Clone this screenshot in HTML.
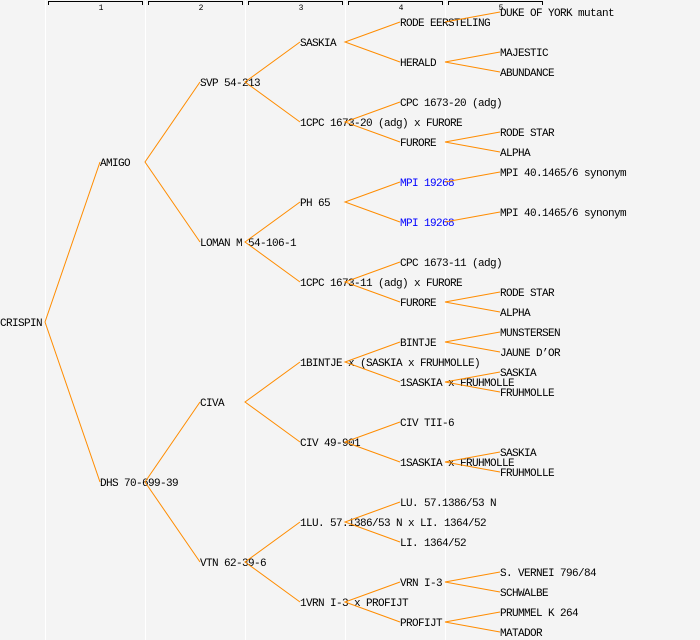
<!DOCTYPE html>
<html><head><meta charset="utf-8"><style>
html,body{margin:0;padding:0;background:#f4f4f4;}
svg{display:block}
text{font-family:"Liberation Mono",monospace;font-size:11px;letter-spacing:-0.6px;fill:#000;}
.h{font-size:8px;letter-spacing:0;text-anchor:middle}
</style></head><body>
<svg width="700" height="640" xmlns="http://www.w3.org/2000/svg">
<rect width="700" height="640" fill="#f4f4f4"/>
<g stroke="#fff" stroke-width="1">
<line x1="45.5" y1="0" x2="45.5" y2="640"/>
<line x1="145.5" y1="0" x2="145.5" y2="640"/>
<line x1="245.5" y1="0" x2="245.5" y2="640"/>
<line x1="345.5" y1="0" x2="345.5" y2="640"/>
<line x1="445.5" y1="0" x2="445.5" y2="640"/>
</g>
<g stroke="#000" stroke-width="1" fill="none">
<polyline points="48.5,5 48.5,1.5 142.5,1.5 142.5,5"/>
<polyline points="148.5,5 148.5,1.5 242.5,1.5 242.5,5"/>
<polyline points="248.5,5 248.5,1.5 342.5,1.5 342.5,5"/>
<polyline points="348.5,5 348.5,1.5 442.5,1.5 442.5,5"/>
<polyline points="448.5,5 448.5,1.5 542.5,1.5 542.5,5"/>
</g>
<text class="h" x="101" y="10">1</text>
<text class="h" x="201" y="10">2</text>
<text class="h" x="301" y="10">3</text>
<text class="h" x="401" y="10">4</text>
<text class="h" x="501" y="10">5</text>

<text x="0" y="326">CRISPIN</text>
<text x="100" y="166">AMIGO</text>
<text x="100" y="486">DHS 70-699-39</text>
<text x="200" y="86">SVP 54-213</text>
<text x="200" y="246">LOMAN M 54-106-1</text>
<text x="200" y="406">CIVA</text>
<text x="200" y="566">VTN 62-39-6</text>
<text x="300" y="46">SASKIA</text>
<text x="300" y="126">1CPC 1673-20 (adg) x FURORE</text>
<text x="300" y="206">PH 65</text>
<text x="300" y="286">1CPC 1673-11 (adg) x FURORE</text>
<text x="300" y="366">1BINTJE x (SASKIA x FRUHMOLLE)</text>
<text x="300" y="446">CIV 49-901</text>
<text x="300" y="526">1LU. 57.1386/53 N x LI. 1364/52</text>
<text x="300" y="606">1VRN I-3 x PROFIJT</text>
<text x="400" y="26">RODE EERSTELING</text>
<text x="400" y="66">HERALD</text>
<text x="400" y="106">CPC 1673-20 (adg)</text>
<text x="400" y="146">FURORE</text>
<text x="400" y="186" style="fill:#0000ff">MPI 19268</text>
<text x="400" y="226" style="fill:#0000ff">MPI 19268</text>
<text x="400" y="266">CPC 1673-11 (adg)</text>
<text x="400" y="306">FURORE</text>
<text x="400" y="346">BINTJE</text>
<text x="400" y="386">1SASKIA x FRUHMOLLE</text>
<text x="400" y="426">CIV TII-6</text>
<text x="400" y="466">1SASKIA x FRUHMOLLE</text>
<text x="400" y="506">LU. 57.1386/53 N</text>
<text x="400" y="546">LI. 1364/52</text>
<text x="400" y="586">VRN I-3</text>
<text x="400" y="626">PROFIJT</text>
<text x="500" y="16">DUKE OF YORK mutant</text>
<text x="500" y="56">MAJESTIC</text>
<text x="500" y="76">ABUNDANCE</text>
<text x="500" y="136">RODE STAR</text>
<text x="500" y="156">ALPHA</text>
<text x="500" y="176">MPI 40.1465/6 synonym</text>
<text x="500" y="216">MPI 40.1465/6 synonym</text>
<text x="500" y="296">RODE STAR</text>
<text x="500" y="316">ALPHA</text>
<text x="500" y="336">MUNSTERSEN</text>
<text x="500" y="356">JAUNE D’OR</text>
<text x="500" y="376">SASKIA</text>
<text x="500" y="396">FRUHMOLLE</text>
<text x="500" y="456">SASKIA</text>
<text x="500" y="476">FRUHMOLLE</text>
<text x="500" y="576">S. VERNEI 796/84</text>
<text x="500" y="596">SCHWALBE</text>
<text x="500" y="616">PRUMMEL K 264</text>
<text x="500" y="636">MATADOR</text>

<g stroke="#ff8c00" stroke-width="1" fill="none">
<polyline points="100,162 45,322 100,482"/>
<polyline points="200,82 145,162 200,242"/>
<polyline points="200,402 145,482 200,562"/>
<polyline points="300,42 245,82 300,122"/>
<polyline points="300,202 245,242 300,282"/>
<polyline points="300,362 245,402 300,442"/>
<polyline points="300,522 245,562 300,602"/>
<polyline points="400,22 345,42 400,62"/>
<polyline points="400,102 345,122 400,142"/>
<polyline points="400,182 345,202 400,222"/>
<polyline points="400,262 345,282 400,302"/>
<polyline points="400,342 345,362 400,382"/>
<polyline points="400,422 345,442 400,462"/>
<polyline points="400,502 345,522 400,542"/>
<polyline points="400,582 345,602 400,622"/>
<line x1="445" y1="22" x2="500" y2="12"/>
<polyline points="500,52 445,62 500,72"/>
<polyline points="500,132 445,142 500,152"/>
<line x1="445" y1="182" x2="500" y2="172"/>
<line x1="445" y1="222" x2="500" y2="212"/>
<polyline points="500,292 445,302 500,312"/>
<polyline points="500,332 445,342 500,352"/>
<polyline points="500,372 445,382 500,392"/>
<polyline points="500,452 445,462 500,472"/>
<polyline points="500,572 445,582 500,592"/>
<polyline points="500,612 445,622 500,632"/>
</g>
</svg>
</body></html>
